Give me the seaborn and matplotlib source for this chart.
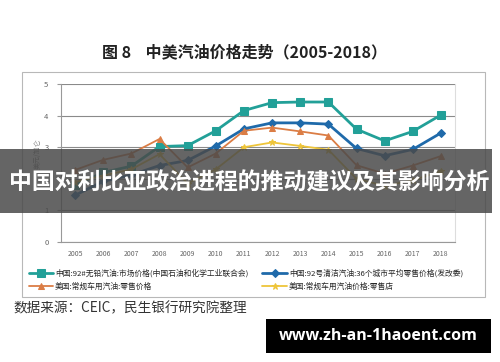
import numpy as np
import pandas as pd
import matplotlib
matplotlib.use("Agg")
import matplotlib.pyplot as plt
import seaborn as sns
from matplotlib.patches import Rectangle

sns.set_style("white")
plt.rcParams['font.family'] = ['Noto Sans CJK SC', 'DejaVu Sans']

# data (USD per gallon)
years = [2005, 2006, 2007, 2008, 2009, 2010, 2011, 2012, 2013, 2014, 2015, 2016, 2017, 2018]
cn_market = [1.8, 2.2, 2.4, 3.02, 3.05, 3.52, 4.16, 4.41, 4.43, 4.43, 3.57, 3.2, 3.5, 4.02]
cn_retail = [1.48, 1.92, 2.12, 2.42, 2.58, 3.04, 3.58, 3.77, 3.77, 3.73, 2.96, 2.73, 2.93, 3.45]
us_retail = [2.28, 2.6, 2.8, 3.26, 2.36, 2.8, 3.52, 3.62, 3.5, 3.37, 2.43, 2.16, 2.42, 2.72]
us_store = [1.9, 2.1, 2.3, 2.78, 1.85, 2.3, 3.0, 3.15, 3.04, 2.92, 2.0, 1.78, 1.95, 2.24]

labels = ["中国:92#无铅汽油:市场价格(中国石油和化学工业联合会)",
          "中国:92号清洁汽油:36个城市平均零售价格(发改委)",
          "美国:常规车用汽油:零售价格",
          "美国:常规车用汽油价格:零售店"]
# the "2" tick sits under the banner in the reference
ytick_labels = ["0", "1", "", "3", "4", "5"]
series = [cn_market, cn_retail, us_retail, us_store]
colors = ["#22A098", "#1F6AAA", "#DB7D45", "#EEC53A"]
markers = ["s", "D", "^", "*"]
msizes = [5.5, 4.5, 4, 5]
lwidths = [2.0, 2.0, 1.3, 1.3]

fig = plt.figure(figsize=(5, 3.62), dpi=100)

# outer chart frame
fig.add_artist(Rectangle((22/500, 1-297/362), 463/500, 225/362, transform=fig.transFigure,
                         fill=False, edgecolor="#b8b8b8", lw=0.8))

ax = fig.add_axes([61/500, 1-242/362, 394/500, 158/362])
x = np.arange(len(years))
for vals, lab, c, m, ms, lw in zip(series, labels, colors, markers, msizes, lwidths):
    sns.lineplot(x=x, y=vals, ax=ax, color=c, marker=m, markersize=ms, linewidth=lw,
                 markeredgecolor=c, label=lab)

ax.set_ylim(0, 5)
ax.set_xlim(-0.5, len(years) - 0.5)
ax.set_yticks(range(0, 6))
ax.set_yticklabels(ytick_labels, fontsize=5.5, color="#666666")
ax.set_xticks(x)
ax.set_xticklabels([str(y) for y in years], fontsize=5, color="#666666")
ax.set_xticks(np.arange(-0.5, len(years), 1), minor=True)
ax.tick_params(axis="x", which="major", length=0, pad=6)
ax.tick_params(axis="x", which="minor", length=3, color="#999999")
ax.tick_params(axis="y", length=3, color="#999999", left=True, pad=6)
ax.grid(axis="y", color="#8a8a8a", lw=0.8)
for s in ["left", "bottom"]:
    ax.spines[s].set_color("#999999")
    ax.spines[s].set_linewidth(0.8)
ax.spines["top"].set_visible(False)
ax.spines["right"].set_color("#dddddd")
ax.set_xlabel("")
ax.set_ylabel("")
fig.text(38/500, 1-154/362, "美元/加仑", rotation=90, ha="center", va="center",
         fontsize=5, color="#888888")

h, l = ax.get_legend_handles_labels()
order = [0, 2, 1, 3]
ax.legend([h[i] for i in order], [l[i] for i in order], ncol=2, fontsize=5.6,
          loc="upper left", bbox_to_anchor=(-0.1, -0.13), frameon=False,
          handlelength=3.2, columnspacing=1.8, labelspacing=0.55, handletextpad=0.2)

fig.text(0.49, 1-52/362, "图 8    中美汽油价格走势（2005-2018）", ha="center", va="center",
         fontsize=11.5, fontweight="bold", color="#222222")
fig.text(13/500, 1-308/362, "数据来源：CEIC，民生银行研究院整理", ha="left", va="center",
         fontsize=9.8, color="#333333")

# overlay banner
fig.add_artist(Rectangle((0, 1-213/362), 492/500, 64/362, transform=fig.transFigure,
                         facecolor="#4a4a4a", alpha=0.85, edgecolor="none", zorder=5))
fig.text(249/500, 1-183/362, "中国对利比亚政治进程的推动建议及其影响分析", ha="center", va="center",
         fontsize=16.5, fontweight="bold", color="white", zorder=6)

# watermark
fig.add_artist(Rectangle((266/500, 1-353/362), 225/500, 34/362, transform=fig.transFigure,
                         facecolor="black", edgecolor="none", zorder=5))
fig.text(378/500, 1-336/362, "www.zh-an-1haoent.com", ha="center", va="center",
         fontsize=11.5, fontweight="bold", color="white", family="Open Sans", zorder=6)

fig.savefig("out.png", dpi=100)
